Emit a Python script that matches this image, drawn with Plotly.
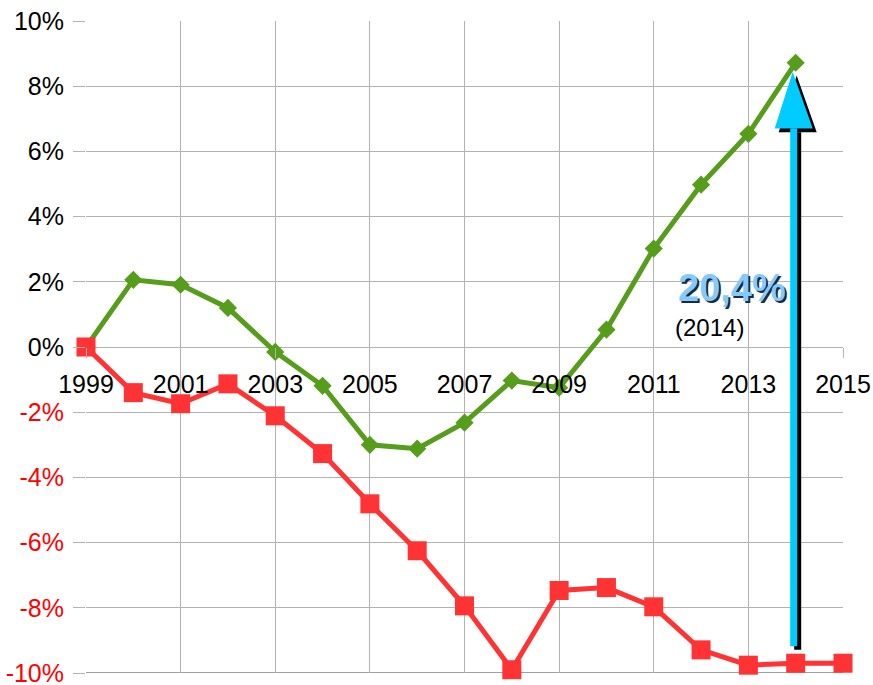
import plotly.graph_objects as go

years = list(range(1999, 2016))
green_years = list(range(1999, 2015))
green_vals = [0.0, 2.06, 1.91, 1.20, -0.15, -1.19, -3.00, -3.12, -2.32, -1.03, -1.25, 0.53, 3.02, 4.98, 6.54, 8.72]
red_vals = [0.0, -1.40, -1.74, -1.13, -2.11, -3.27, -4.81, -6.25, -7.94, -9.90, -7.47, -7.38, -7.97, -9.29, -9.76, -9.70, -9.70]

y_ticks = [10, 8, 6, 4, 2, 0, -2, -4, -6, -8, -10]
y_tick_text = [f"{v}%" if v >= 0 else f'<span style="color:#ff0000">{v}%</span>' for v in y_ticks]
x_ticks = list(range(1999, 2016, 2))

label_big = "20,4%"
label_small = "(2014)"
arrow_year = 2014
arrow_top = 8.44
arrow_base = 6.70
arrow_bottom = -9.18

GRID = "#b3b3b3"
FONT = "Liberation Sans, Arial, sans-serif"

fig = go.Figure()

fig.add_trace(go.Scatter(
    x=green_years, y=green_vals, mode="lines+markers",
    line=dict(color="#579d1c", width=5),
    marker=dict(symbol="diamond", size=14, color="#579d1c"),
    cliponaxis=False, showlegend=False))

fig.add_trace(go.Scatter(
    x=years, y=red_vals, mode="lines+markers",
    line=dict(color="#ff3333", width=5),
    marker=dict(symbol="square", size=19, color="#ff3333"),
    cliponaxis=False, showlegend=False))

def arrow_shapes(dx, dy, color):
    shaft = dict(type="rect", xref="x", yref="y", xsizemode="pixel", xanchor=arrow_year,
                 x0=-5.5 + dx, x1=1.5 + dx, y0=arrow_bottom - dy, y1=arrow_base - dy,
                 fillcolor=color, line=dict(width=0), layer="above")
    head = dict(type="path", xref="x", yref="y", xsizemode="pixel", xanchor=arrow_year,
                path=f"M {-21+dx},{arrow_base-dy} L {17+dx},{arrow_base-dy} L {-3+dx},{arrow_top-dy} Z",
                fillcolor=color, line=dict(width=0), layer="above")
    return [shaft, head]

shapes = [dict(type="line", xref="paper", yref="y", x0=0, x1=1, y0=-10, y1=-10,
               line=dict(color="#a0a0a0", width=2), layer="below")]
shapes += arrow_shapes(4, 0.11, "#000000") + arrow_shapes(0, 0, "#00ccff")

fig.update_layout(
    width=873, height=685,
    margin=dict(l=86, r=30, t=21, b=12),
    paper_bgcolor="white", plot_bgcolor="white",
    font=dict(family=FONT, size=25, color="#000000"),
    shapes=shapes,
    xaxis=dict(range=[1999, 2015], tickvals=x_ticks, ticktext=[str(v) for v in x_ticks],
               showgrid=True, gridcolor=GRID, gridwidth=1, zeroline=False,
               anchor="free", position=0.5, showline=False, automargin=False,
               ticks="outside", ticklen=10, tickcolor=GRID, ticklabelstandoff=5,
               ticklabeloverflow="allow",
               tickfont=dict(size=25, family=FONT, color="#000000")),
    yaxis=dict(range=[-10, 10], tickvals=y_ticks, ticktext=y_tick_text,
               showgrid=True, gridcolor=GRID, gridwidth=1, zeroline=False, automargin=False,
               showline=False, ticks="outside", ticklen=12, tickcolor=GRID,
               ticklabelstandoff=4, ticklabeloverflow="allow",
               tickfont=dict(size=25, family=FONT, color="#000000")),
    annotations=[
        dict(x=2012.65, y=1.80, xref="x", yref="y", text=f"<b>{label_big}</b>", showarrow=False,
             xanchor="center", yanchor="middle",
             font=dict(size=38, family=FONT, color="#83caff", shadow="2px 2px 0px #1a2a40")),
        dict(x=2012.18, y=0.61, xref="x", yref="y", text=label_small, showarrow=False,
             xanchor="center", yanchor="middle",
             font=dict(size=24, family=FONT, color="#000000")),
    ],
)

fig.write_html("out.html", config={"displayModeBar": False},
               post_script="document.body.style.margin='0';document.body.style.overflow='hidden';")
